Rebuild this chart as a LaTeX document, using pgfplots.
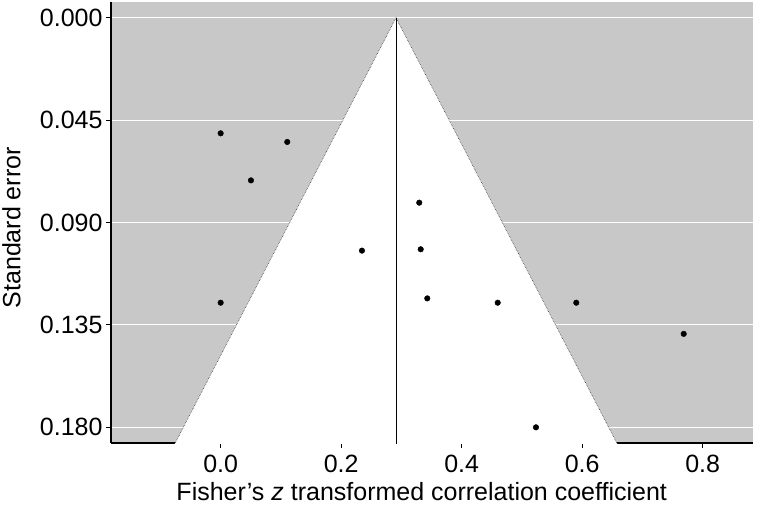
\documentclass[border=0pt]{standalone}
\usepackage{pgfplots}
\pgfplotsset{compat=1.18}
\usepackage{fontspec}
\setmainfont{Liberation Sans}
\definecolor{panelgrey}{RGB}{200,200,200}

\begin{document}
\begin{tikzpicture}[x=1pt,y=1pt]
\useasboundingbox (-111,-62) rectangle (649,443);
\begin{axis}[
    at={(0,0)}, anchor=south west,
    scale only axis,
    width=642pt, height=441pt,
    xmin=-0.182, xmax=0.8835,
    ymin=-0.00695, ymax=0.187,
    y dir=reverse,
    axis x line*=bottom,
    axis y line*=left,
    axis line style={black, line width=1.2pt},
    axis background/.style={fill=panelgrey},
    xtick={0,0.2,0.4,0.6,0.8},
    ytick={0,0.045,0.09,0.135,0.18},
    ymajorgrids=true,
    grid style={white, line width=1pt},
    tick align=outside,
    major tick length=5pt,
    tick style={black, line width=1pt},
    /pgf/number format/assume math mode=true,
    xticklabel style={/pgf/number format/.cd, fixed, fixed zerofill, precision=1, /tikz/.cd, yshift=-4pt},
    yticklabel style={/pgf/number format/.cd, fixed, fixed zerofill, precision=3},
    tick label style={font=\fontsize{25}{29}\selectfont},
    label style={font=\fontsize{25}{29}\selectfont},
    xlabel={Fisher's \textit{z} transformed correlation coefficient},
    ylabel={Standard error},
    xlabel style={at={(axis description cs:0.484,0)}, anchor=base, yshift=-57pt},
    ylabel style={at={(axis description cs:0,0.488)}, anchor=base, yshift=90.5pt},
    clip=true,
]
% funnel (95% region around the pooled estimate 0.291)
\addplot[fill=white, draw=none] coordinates {(-0.101,0.2) (0.291,0) (0.683,0.2)} -- cycle;
\addplot[black!80, densely dotted, line width=0.6pt] coordinates {(-0.101,0.2) (0.291,0) (0.683,0.2)};
\addplot[black, line width=0.6pt] coordinates {(0.291,0) (0.291,0.2)};
% studies
\addplot[only marks, mark=*, mark size=2.8pt, black] coordinates {
    (0.000,0.0508) (0.1105,0.0546) (0.0503,0.0715) (0.000,0.1253)
    (0.2345,0.1024) (0.3296,0.0813) (0.332,0.1018) (0.3429,0.1234)
    (0.4598,0.1253) (0.5902,0.1253) (0.7685,0.1390) (0.5233,0.1801)
};
\end{axis}
\end{tikzpicture}
\end{document}
